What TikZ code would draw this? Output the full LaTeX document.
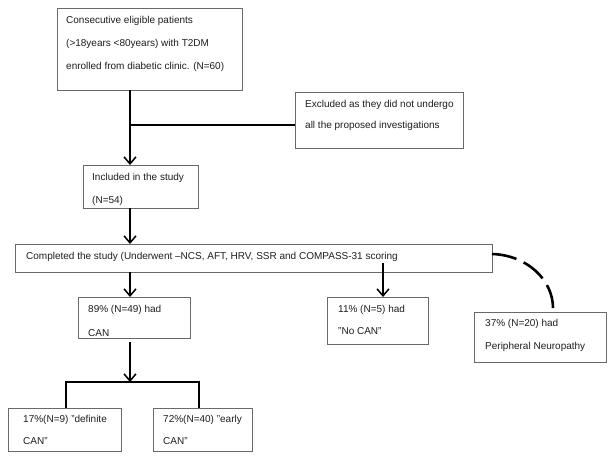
\documentclass[tikz,border=0pt]{standalone}
\usepackage{fontspec}
\setmainfont{Liberation Sans}
\usetikzlibrary{arrows.meta}
\definecolor{bordergray}{RGB}{105,105,105}
\definecolor{ink}{RGB}{30,30,30}
\tikzset{
  box/.style={draw=bordergray, line width=0.8pt, fill=white, anchor=north west, inner sep=0pt, outer sep=0pt},
  txt/.style={anchor=base west, inner sep=0pt, text=ink, font=\fontsize{10}{12}\selectfont},
  conn/.style={line width=1.8pt, black},
  arr/.style={conn, -{Straight Barb[length=7pt, width=12pt, line width=1.5pt]}},
  dashconn/.style={line width=2.6pt, black, dash pattern=on 25pt off 8pt}
}
\begin{document}
\begin{tikzpicture}[x=1pt, y=-1pt]
\fill[white] (0,0) rectangle (608,458);
\useasboundingbox (0,0) rectangle (608,458);
\coordinate (spine) at (130,0);
\coordinate (exy) at (0,125);
\coordinate (nx) at (383,263);
\coordinate (bar) at (130,382);

% boxes
\node[box, minimum width=185pt, minimum height=82pt] (b1) at (57,8) {};
\node[box, minimum width=168pt, minimum height=56pt] (excl) at (295,92) {};
\node[box, minimum width=115pt, minimum height=43pt] (inc) at (83,165) {};
\node[box, minimum width=477pt, minimum height=28pt] (comp) at (15,244) {};
\node[box, minimum width=112pt, minimum height=41pt] (can) at (78,297) {};
\node[box, minimum width=101pt, minimum height=47pt] (nocan) at (327,297) {};
\node[box, minimum width=132pt, minimum height=50pt] (per) at (474,312) {};
\node[box, minimum width=113pt, minimum height=43pt] (def) at (8,408) {};
\node[box, minimum width=99pt, minimum height=43pt] (early) at (153,408) {};

% texts
\node[txt] (t1a) at (66,23) {Consecutive eligible patients};
\node[txt] (t1b) at (66,46.5) {(>18years <80years) with T2DM};
\node[txt] (t1c) at (66,69) {enrolled from diabetic clinic. (N=60)};
\node[txt] (t2a) at (305,107.5) {Excluded as they did not undergo};
\node[txt] (t2b) at (305,128.5) {all the proposed investigations};
\node[txt] (t3a) at (92,180.5) {Included in the study};
\node[txt] (t3b) at (92,203.5) {(N=54)};
\node[txt] (t4) at (26,259.5) {Completed the study (Underwent –NCS, AFT, HRV, SSR and COMPASS-31 scoring};
\node[txt] (t5a) at (88,312.5) {89\% (N=49) had};
\node[txt] (t5b) at (88,336) {CAN};
\node[txt] (t6a) at (338,312.5) {11\% (N=5) had};
\node[txt] (t6b) at (338,334.5) {"No CAN"};
\node[txt] (t7a) at (485,326.5) {37\% (N=20) had};
\node[txt] (t7b) at (485,349.5) {Peripheral Neuropathy};
\node[txt] (t8a) at (23,422.5) {17\%(N=9) "definite};
\node[txt] (t8b) at (23,444.5) {CAN"};
\node[txt] (t9a) at (163,422.5) {72\%(N=40) "early};
\node[txt] (t9b) at (163,444.5) {CAN"};

% connectors
\draw[arr] (b1.south -| spine) -- (inc.north -| spine);
\draw[conn] (spine |- exy) -- (excl.west |- exy);
\draw[arr] (inc.south -| spine) -- (comp.north -| spine);
\draw[arr] (comp.south -| spine) -- (can.north -| spine);
\draw[arr] (nx) -- (nocan.north -| nx);
\draw[arr] ([yshift=-4pt]can.south -| spine) -- (bar);
\draw[conn] ([xshift=1.5pt]def.north) |- (bar) -| ([xshift=-3.5pt]early.north);
\draw[dashconn] ([yshift=4pt]comp.east) .. controls (527,255) and (553,280) .. ([xshift=13pt,yshift=4pt]per.north);
\end{tikzpicture}
\end{document}
